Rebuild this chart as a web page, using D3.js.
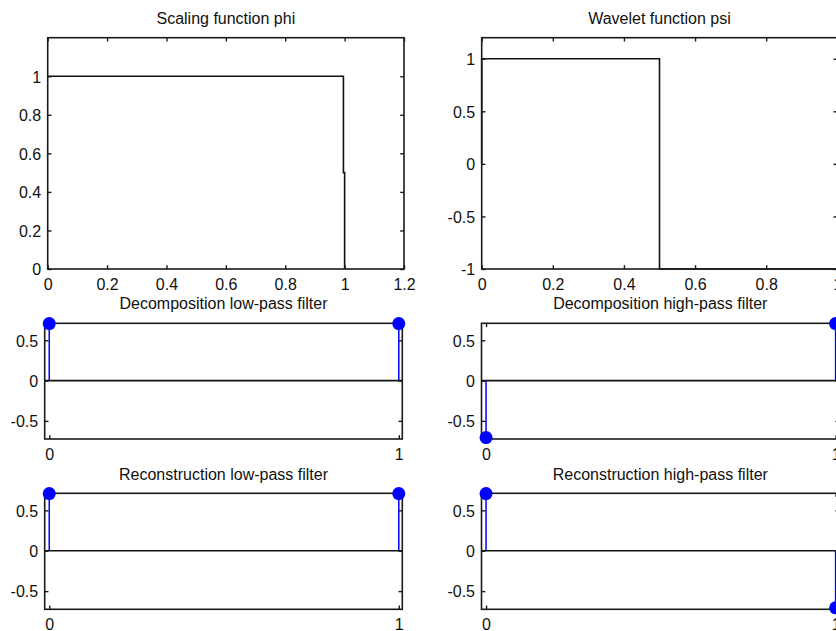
<!DOCTYPE html>
<html>
<head>
<meta charset="utf-8">
<script src="https://cdn.jsdelivr.net/npm/d3@7/dist/d3.min.js"></script>
<style>
  html, body { margin: 0; padding: 0; background: #fff; overflow: hidden; }
  svg { display: block; font-family: "Liberation Sans", Arial, Helvetica, sans-serif; }
  .axis text { font-size: 16px; fill: #111; }
  .axis line { stroke: #1a1a1a; stroke-width: 1.4; }
  .axis path { display: none; }
  .title { font-size: 16px; fill: #111; text-anchor: middle; }
</style>
</head>
<body>
<svg id="chart" width="836" height="631"></svg>
<script>
// Haar wavelet: scaling function, wavelet function and its four filters.

// Scaling function phi on [0, 1]
const phiX = [0, 0.996, 0.996, 1.0, 1.0];
const phiY = [1, 1, 0.5, 0.5, 0];

// Wavelet function psi on [0, 1]
const psiX = [0, 0, 0.5, 0.5, 1];
const psiY = [0, 1, 1, -1, -1];

// Filter taps (index 0 and 1)
const filterIndex = [0, 1];
const loD = [0.7071, 0.7071];
const hiD = [-0.7071, 0.7071];
const loR = [0.7071, 0.7071];
const hiR = [0.7071, -0.7071];

// Titles
const titles = [
  "Scaling function phi", "Wavelet function psi",
  "Decomposition low-pass filter", "Decomposition high-pass filter",
  "Reconstruction low-pass filter", "Reconstruction high-pass filter"
];

// Tick values
const phiXTicks = [0, 0.2, 0.4, 0.6, 0.8, 1, 1.2];
const phiYTicks = [0, 0.2, 0.4, 0.6, 0.8, 1];
const psiXTicks = [0, 0.2, 0.4, 0.6, 0.8, 1];
const psiYTicks = [-1, -0.5, 0, 0.5, 1];
const filterXTicks = [0, 1];
const filterYTicks = [-0.5, 0, 0.5];

const svg = d3.select("#chart");
const TICK = 3.8;

// Panel frames in page pixels
const panels = [
  { x0: 47.7, x1: 404.0, y0: 37.7, y1: 269.0, xd: [0, 1.2], yd: [0, 1.2],
    xt: phiXTicks, yt: phiYTicks, title: titles[0], ty: 24 },
  { x0: 481.7, x1: 837.3, y0: 37.7, y1: 269.0, xd: [0, 1], yd: [-1, 1.2],
    xt: psiXTicks, yt: psiYTicks, title: titles[1], ty: 24 },
  { x0: 44.7, x1: 402.3, y0: 323.3, y1: 439.0, xd: [-0.013, 1.01], yd: [-0.725, 0.711],
    xt: filterXTicks, yt: filterYTicks, title: titles[2], ty: 309, taps: loD },
  { x0: 481.5, x1: 839.1, y0: 323.3, y1: 439.0, xd: [-0.013, 1.01], yd: [-0.725, 0.711],
    xt: filterXTicks, yt: filterYTicks, title: titles[3], ty: 309, taps: hiD },
  { x0: 44.7, x1: 402.3, y0: 493.3, y1: 609.3, xd: [-0.013, 1.01], yd: [-0.725, 0.711],
    xt: filterXTicks, yt: filterYTicks, title: titles[4], ty: 480, taps: loR },
  { x0: 481.5, x1: 839.1, y0: 493.3, y1: 609.3, xd: [-0.013, 1.01], yd: [-0.725, 0.711],
    xt: filterXTicks, yt: filterYTicks, title: titles[5], ty: 480, taps: hiR }
];

const fmt = d => String(d);

panels.forEach((p, i) => {
  const x = d3.scaleLinear().domain(p.xd).range([p.x0, p.x1]);
  const y = d3.scaleLinear().domain(p.yd).range([p.y1, p.y0]);
  const g = svg.append("g");

  // curves (top row) or stems with a zero baseline (filters)
  if (i === 0 || i === 1) {
    const xs = i === 0 ? phiX : psiX;
    const ys = i === 0 ? phiY : psiY;
    const line = d3.line().x(d => x(d[0])).y(d => y(d[1]));
    g.append("path")
      .attr("d", line(d3.zip(xs, ys)))
      .attr("fill", "none")
      .attr("stroke", "#111")
      .attr("stroke-width", 1.6);
  } else {
    const pts = d3.zip(filterIndex, p.taps);
    g.selectAll("line.stem").data(pts).join("line")
      .attr("class", "stem")
      .attr("x1", d => x(d[0])).attr("x2", d => x(d[0]))
      .attr("y1", y(0)).attr("y2", d => y(d[1]))
      .attr("stroke", "#0000ff").attr("stroke-width", 1.5);
    g.append("line")
      .attr("x1", x(p.xd[0])).attr("x2", x(p.xd[1]))
      .attr("y1", y(0)).attr("y2", y(0))
      .attr("stroke", "#111").attr("stroke-width", 1.6);
  }

  // axes with inward ticks on all four sides
  g.append("g").attr("class", "axis bottom").attr("transform", `translate(0,${p.y1})`)
    .call(d3.axisBottom(x).tickValues(p.xt).tickFormat(fmt).tickSize(-TICK).tickSizeOuter(0).tickPadding(9.6));
  g.append("g").attr("class", "axis").attr("transform", `translate(0,${p.y0})`)
    .call(d3.axisTop(x).tickValues(p.xt).tickFormat("").tickSize(-TICK).tickSizeOuter(0));
  g.append("g").attr("class", "axis left").attr("transform", `translate(${p.x0},0)`)
    .call(d3.axisLeft(y).tickValues(p.yt).tickFormat(fmt).tickSize(-TICK).tickSizeOuter(0).tickPadding(6.5));
  g.append("g").attr("class", "axis").attr("transform", `translate(${p.x1},0)`)
    .call(d3.axisRight(y).tickValues(p.yt).tickFormat("").tickSize(-TICK).tickSizeOuter(0));
  g.selectAll(".axis.bottom text").attr("dy", "0.71em");
  g.selectAll(".axis.left text").attr("dy", "0.36em");

  // frame
  g.append("rect")
    .attr("x", p.x0).attr("y", p.y0)
    .attr("width", p.x1 - p.x0).attr("height", p.y1 - p.y0)
    .attr("fill", "none").attr("stroke", "#1a1a1a").attr("stroke-width", 1.6);

  // filled markers on top of the stems
  if (p.taps) {
    g.selectAll("circle").data(d3.zip(filterIndex, p.taps)).join("circle")
      .attr("cx", d => x(d[0])).attr("cy", d => y(d[1]))
      .attr("r", 6.5).attr("fill", "#0000ff");
  }

  svg.append("text").attr("class", "title")
    .attr("x", (p.x0 + p.x1) / 2).attr("y", p.ty)
    .text(p.title);
});
</script>
</body>
</html>
